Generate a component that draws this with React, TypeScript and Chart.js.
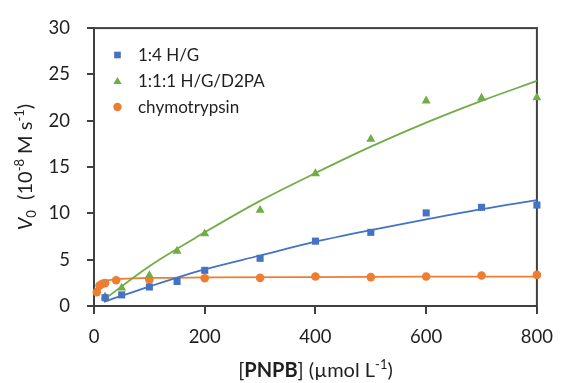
import React, { useEffect, useRef } from "react";
import { Chart, registerables } from "chart.js";
Chart.register(...registerables);

// ---- data ----
const hgX = [20, 50, 100, 150, 200, 300, 400, 500, 600, 700, 800];
const hgV = [0.9, 1.2, 2.05, 2.65, 3.85, 5.15, 7.0, 7.95, 10.05, 10.65, 10.9];

const hgdX = [20, 50, 100, 150, 200, 300, 400, 500, 600, 700, 800];
const hgdV = [1.0, 1.95, 3.3, 5.93, 7.8, 10.35, 14.3, 18.0, 22.15, 22.45, 22.5];

const chyX = [5, 10, 15, 20, 40, 100, 200, 300, 400, 500, 600, 700, 800];
const chyV = [1.5, 2.2, 2.4, 2.47, 2.78, 2.85, 3.0, 3.04, 3.18, 3.12, 3.18, 3.29, 3.36];

// fitted curves
const hgFitX = [18, 100, 200, 300, 400, 500, 600, 700, 800];
const hgFitV = [0.45, 2.1, 3.95, 5.45, 6.95, 8.2, 9.35, 10.45, 11.43];

const hgdFitX = [15, 100, 200, 300, 400, 500, 600, 700, 800];
const hgdFitV = [0.55, 4.3, 7.95, 11.35, 14.35, 17.2, 19.8, 22.15, 24.3];

const chyFitX = [5, 10, 20, 40, 100, 200, 400, 600, 800];
const chyFitV = [2.0, 2.4, 2.7, 2.9, 3.03, 3.08, 3.13, 3.16, 3.18];

const seriesNames = ["1:4 H/G", "1:1:1 H/G/D2PA", "chymotrypsin"];
const seriesColors = ["#4472C4", "#70AD47", "#ED7D31"];
const seriesShapes = ["rect", "triangle", "circle"];

const xMin = 0, xMax = 800, xStep = 200;
const yMin = 0, yMax = 30, yStep = 5;

const FONT = "Lato";
const TEXT = "#1f1f1f";
const AXIS = "#404040";

type Seg = { t: string; size: number; style?: string; weight?: string; dy?: number };

const yTitle: Seg[] = [
  { t: "V", size: 20, style: "italic" },
  { t: "0", size: 13, dy: 4 },
  { t: "  (10", size: 20 },
  { t: "-8", size: 13, dy: -8 },
  { t: " M s", size: 20 },
  { t: "-1", size: 13, dy: -8 },
  { t: ")", size: 20 },
];
const xTitle: Seg[] = [
  { t: "[", size: 20 },
  { t: "PNPB", size: 20, weight: "bold" },
  { t: "] (\u00B5mol L", size: 20 },
  { t: "-1", size: 13, dy: -8 },
  { t: ")", size: 20 },
];

function segFont(s: Seg) {
  return `${s.style || "normal"} ${s.weight || "normal"} ${s.size}px ${FONT}`;
}

function drawRich(ctx: CanvasRenderingContext2D, segs: Seg[], cx: number, baseY: number) {
  let total = 0;
  for (const s of segs) {
    ctx.font = segFont(s);
    total += ctx.measureText(s.t).width;
  }
  let x = cx - total / 2;
  ctx.textAlign = "left";
  ctx.textBaseline = "alphabetic";
  for (const s of segs) {
    ctx.font = segFont(s);
    ctx.fillText(s.t, x, baseY + (s.dy || 0));
    x += ctx.measureText(s.t).width;
  }
}

const decorPlugin = {
  id: "decor",
  beforeDatasetsDraw(chart: any) {
    const { ctx, chartArea: a } = chart;
    ctx.save();
    ctx.strokeStyle = AXIS;
    ctx.lineWidth = 2;
    ctx.strokeRect(a.left, a.top, a.right - a.left, a.bottom - a.top);
    ctx.restore();
  },
  afterDraw(chart: any) {
    const { ctx, chartArea: a } = chart;
    ctx.save();
    ctx.fillStyle = TEXT;
    // x title
    drawRich(ctx, xTitle, (a.left + a.right) / 2, 376.5);
    // y title
    ctx.save();
    ctx.translate(32, (a.top + a.bottom) / 2);
    ctx.rotate(-Math.PI / 2);
    drawRich(ctx, yTitle, 0, 0);
    ctx.restore();
    // legend
    const rows = [55, 81, 107];
    const mx = 117.5;
    const tx = 138;
    const radii = [4.7, 4.8, 4.2];
    rows.forEach((ry, i) => {
      ctx.save();
      ctx.fillStyle = seriesColors[i];
      const r = radii[i];
      ctx.beginPath();
      if (seriesShapes[i] === "rect") {
        ctx.rect(mx - r * Math.SQRT1_2, ry - r * Math.SQRT1_2, 2 * r * Math.SQRT1_2, 2 * r * Math.SQRT1_2);
      } else if (seriesShapes[i] === "triangle") {
        const h = r * 1.5;
        ctx.moveTo(mx, ry - h / 2 - 0.5);
        ctx.lineTo(mx + r * 0.866, ry + h / 2 - 0.5);
        ctx.lineTo(mx - r * 0.866, ry + h / 2 - 0.5);
        ctx.closePath();
      } else {
        ctx.arc(mx, ry, r, 0, Math.PI * 2);
      }
      ctx.fill();
      ctx.restore();
      ctx.font = `17px ${FONT}`;
      ctx.fillStyle = TEXT;
      ctx.textAlign = "left";
      ctx.textBaseline = "alphabetic";
      ctx.fillText(seriesNames[i], tx, ry + 6);
    });
    ctx.restore();
  },
};

function pts(xs: number[], ys: number[]) {
  return xs.map((x, i) => ({ x, y: ys[i] }));
}

export default function App() {
  const ref = useRef<HTMLCanvasElement>(null);
  useEffect(() => {
    document.body.style.margin = "0";
    const canvas = ref.current!;
    const pointSet = (label: string, xs: number[], ys: number[], i: number, r: number) => ({
      label,
      data: pts(xs, ys),
      showLine: false,
      pointStyle: seriesShapes[i],
      pointRadius: r,
      pointHoverRadius: r,
      backgroundColor: seriesColors[i],
      borderColor: seriesColors[i],
      borderWidth: 0,
      clip: false as any,
    });
    const fitSet = (xs: number[], ys: number[], i: number) => ({
      label: "fit",
      data: pts(xs, ys),
      showLine: true,
      pointRadius: 0,
      borderColor: seriesColors[i],
      backgroundColor: seriesColors[i],
      borderWidth: 1.75,
      cubicInterpolationMode: "monotone" as const,
      fill: false,
    });
    const chart = new Chart(canvas, {
      type: "scatter",
      data: {
        datasets: [
          pointSet(seriesNames[0], hgX, hgV, 0, 5),
          pointSet(seriesNames[1], hgdX, hgdV, 1, 5.2),
          pointSet(seriesNames[2], chyX, chyV, 2, 4.3),
          fitSet(hgFitX, hgFitV, 0),
          fitSet(hgdFitX, hgdFitV, 1),
          fitSet(chyFitX, chyFitV, 2),
        ] as any,
      },
      options: {
        responsive: false,
        animation: false,
        devicePixelRatio: 1,
        layout: { padding: { top: 23, right: 19, left: 0, bottom: 0 } },
        plugins: { legend: { display: false }, tooltip: { enabled: false }, title: { display: false } },
        scales: {
          x: {
            type: "linear",
            min: xMin,
            max: xMax,
            ticks: { stepSize: xStep, padding: 12, color: TEXT, font: { family: FONT, size: 18.5 } },
            grid: { drawOnChartArea: false, drawTicks: true, tickLength: 8, color: AXIS, lineWidth: 2 },
            border: { display: false },
            afterFit: (s: any) => { s.height = 77; },
          },
          y: {
            type: "linear",
            min: yMin,
            max: yMax,
            ticks: { stepSize: yStep, padding: 17, color: TEXT, font: { family: FONT, size: 18.5 } },
            grid: { drawOnChartArea: false, drawTicks: true, tickLength: 7, color: AXIS, lineWidth: 2 },
            border: { display: false },
            afterFit: (s: any) => { s.width = 94; },
          },
        },
      } as any,
      plugins: [decorPlugin],
    });
    return () => chart.destroy();
  }, []);
  return (
    <div style={{ width: 565, height: 383 }}>
      <canvas ref={ref} width={565} height={383} style={{ width: 565, height: 383, display: "block" }} />
    </div>
  );
}
